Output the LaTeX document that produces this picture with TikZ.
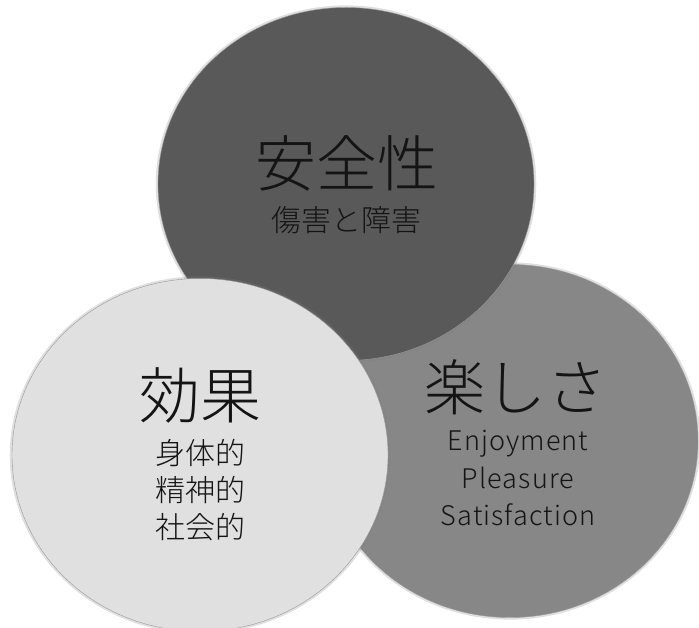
\documentclass[tikz,border=0pt]{standalone}
\usepackage{fontspec}
\setmainfont{Noto Sans CJK JP Light}
\newfontfamily\latinfont[LetterSpace=4]{Noto Sans CJK JP Light}
\usetikzlibrary{shapes.geometric,shadows}
\definecolor{cdark}{HTML}{595959}
\definecolor{cmid}{HTML}{878787}
\definecolor{clight}{HTML}{E0E0E0}
\definecolor{ctext}{HTML}{141414}
\tikzset{
  blob/.style={ellipse, inner sep=0pt, minimum width=376pt, minimum height=353pt,
    draw=black!40, line width=0.4pt,
    drop shadow={opacity=0.25, shadow xshift=0pt, shadow yshift=0pt, shadow scale=1.012}},
  big/.style={text=ctext, font=\fontsize{61}{64}\selectfont, inner sep=0pt},
  small/.style={text=ctext, font=\fontsize{30}{37}\selectfont, inner sep=0pt, align=center},
  latin/.style={text=ctext, font=\latinfont\fontsize{27}{37.5}\selectfont, inner sep=0pt, align=center}
}
\begin{document}
\begin{tikzpicture}[x=1pt,y=-1pt]
\fill[white] (0,0) rectangle (699,628);
\useasboundingbox (0,0) rectangle (699,628);
\node[blob, fill=cmid] (fun) at (510,441) {};
\node[blob, fill=cdark] (safe) at (346,184) {};
\node[blob, fill=clight] (eff) at (200,455) {};
\node[big] (safeT) at (347,163) {安全性};
\node[small] (safeS) at (346,220) {傷害と障害};
\node[big] (effT) at (200,395) {効果};
\node[small] (effS) at (200,490) {身体的\\精神的\\社会的};
\node[big] (funT) at (516,387) {楽しさ};
\node[latin] (funS) at (518,478) {Enjoyment\\Pleasure\\Satisfaction};
\end{tikzpicture}
\end{document}
